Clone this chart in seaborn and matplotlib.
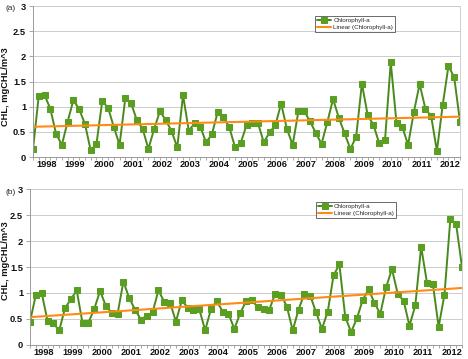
import numpy as np
import pandas as pd
import matplotlib
matplotlib.use("Agg")
import matplotlib.pyplot as plt
import seaborn as sns

years = list(range(1998, 2013))
year_labels = [str(y) for y in years]

chl_a = [0.15, 1.22, 1.23, 0.96, 0.46, 0.24, 0.70, 1.13, 0.95, 0.66,
         0.13, 0.26, 1.11, 0.98, 0.60, 0.24, 1.17, 1.07, 0.73, 0.56,
         0.16, 0.56, 0.91, 0.73, 0.52, 0.19, 1.23, 0.52, 0.67, 0.60,
         0.29, 0.45, 0.89, 0.79, 0.60, 0.20, 0.28, 0.63, 0.68, 0.67,
         0.29, 0.49, 0.63, 1.06, 0.56, 0.24, 0.91, 0.91, 0.71, 0.48,
         0.26, 0.69, 1.15, 0.78, 0.47, 0.16, 0.40, 1.46, 0.83, 0.64,
         0.27, 0.33, 1.88, 0.67, 0.60, 0.24, 0.89, 1.45, 0.96, 0.81,
         0.12, 1.03, 1.81, 1.58, 0.70]

chl_b = [0.45, 0.96, 1.00, 0.47, 0.42, 0.28, 0.71, 0.88, 1.05, 0.42,
         0.43, 0.69, 1.04, 0.75, 0.62, 0.60, 1.22, 0.90, 0.68, 0.49,
         0.56, 0.63, 1.05, 0.83, 0.81, 0.45, 0.86, 0.72, 0.68, 0.69,
         0.28, 0.69, 0.85, 0.64, 0.60, 0.31, 0.61, 0.84, 0.86, 0.73,
         0.69, 0.68, 0.99, 0.97, 0.74, 0.28, 0.68, 0.99, 0.95, 0.63,
         0.31, 0.64, 1.34, 1.55, 0.54, 0.25, 0.51, 0.87, 1.07, 0.81,
         0.60, 1.11, 1.46, 0.98, 0.85, 0.37, 0.76, 1.89, 1.20, 1.18,
         0.35, 0.97, 2.42, 2.32, 1.50]

panel_labels = ["(a)", "(b)"]
series_name = "Chlorophyll-a"
trend_name = "Linear (Chlorophyll-a)"
ylabel = "CHL, mgCHL/m^3"
yticks = [0, 0.5, 1, 1.5, 2, 2.5, 3]
ytick_labels = ["0", "0.5", "1", "1.5", "2", "2.5", "3"]

sns.set_style("white")
plt.rcParams['font.family'] = ['Liberation Sans', 'DejaVu Sans']

W, H = 468, 359
fig = plt.figure(figsize=(W / 100, H / 100), dpi=100)

# axes rectangles in pixels: left, right, top, bottom
rects = [(33, 460, 6, 157), (30, 462, 189, 345)]
legend_pos = [(315, 16), (316, 202)]
ylabel_centers = [87, 261]

line_col = "#4a8a1c"
marker_col = "#5a9e22"
trend_col = "#ff8a14"

for k, (data, rect, lp, plab, yc) in enumerate(zip([chl_a, chl_b], rects, legend_pos,
                                                    panel_labels, ylabel_centers)):
    l, r, t, b = rect
    ax = fig.add_axes([l / W, 1 - b / H, (r - l) / W, (b - t) / H])
    n = len(data)
    idx = np.arange(n)
    df = pd.DataFrame({"x": idx, "y": data})
    coef = np.polyfit(idx, np.array(data), 1)
    tdf = pd.DataFrame({"x": [0, n - 1], "y": np.polyval(coef, [0, n - 1])})

    sns.lineplot(data=df, x="x", y="y", ax=ax, color=line_col, lw=1.4,
                 marker="s", markersize=3.8, markerfacecolor=marker_col,
                 markeredgecolor=marker_col, label=series_name)
    sns.lineplot(data=tdf, x="x", y="y", ax=ax, color=trend_col, lw=1.5,
                 label=trend_name)

    ax.set_xlim(0, n - 1)
    ax.set_ylim(0, 3)
    ax.set_yticks(yticks)
    ax.set_yticklabels(ytick_labels)
    ax.set_xticks([5 * i + 2.3 for i in range(len(years))])
    ax.set_xticklabels(year_labels)
    ax.set_xticks(np.arange(0, n, 1), minor=True)
    ax.tick_params(axis="x", which="major", length=0, pad=2.5, labelsize=6.7)
    ax.tick_params(axis="x", which="minor", length=2.5, color="#999999", width=0.6, bottom=True)
    ax.tick_params(axis="y", length=3, color="#999999", width=0.6, pad=2, labelsize=6.7, left=True)
    for lab in ax.get_xticklabels() + ax.get_yticklabels():
        lab.set_fontweight("bold")
        lab.set_color("#111111")
    ax.yaxis.grid(True, color="#cccccc", lw=0.7)
    ax.set_axisbelow(True)
    ax.spines["top"].set_visible(False)
    ax.spines["left"].set_color("#999999")
    ax.spines["bottom"].set_color("#999999")
    ax.spines["right"].set_color("#d0d0d0")
    for s in ["left", "bottom", "right"]:
        ax.spines[s].set_linewidth(0.7)
    ax.set_xlabel("")
    ax.set_ylabel("")

    lx = (lp[0] - l) / (r - l)
    ly = (b - lp[1]) / (b - t)
    leg = ax.legend(loc="upper left", bbox_to_anchor=(lx, ly), fontsize=4.5,
                    frameon=True, fancybox=False, borderpad=0.3, labelspacing=0.2,
                    handlelength=2.2, handletextpad=0.4, borderaxespad=0)
    leg.get_frame().set_edgecolor("#444444")
    leg.get_frame().set_linewidth(0.7)

    fig.text(6 / W, 1 - yc / H, ylabel, rotation=90, fontsize=6.7, fontweight="bold",
             ha="center", va="center", color="#111111")
    fig.text(5 / W, 1 - (t + 3) / H, plab, fontsize=6, ha="left", va="center")

fig.savefig("out.png", dpi=100)
